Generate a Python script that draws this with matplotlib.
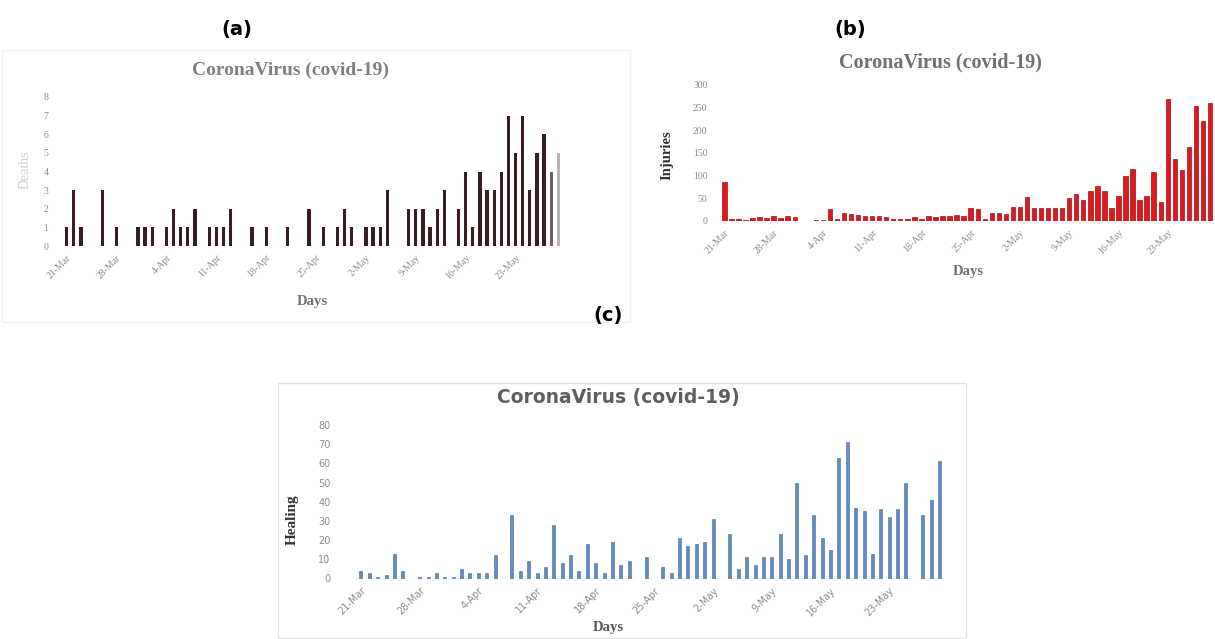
import numpy as np
import matplotlib
matplotlib.use("Agg")
from matplotlib import pyplot as plt
from matplotlib.patches import Rectangle

W, H = 1215, 639

tick_labels = ["21-Mar", "28-Mar", "4-Apr", "11-Apr", "18-Apr",
               "25-Apr", "2-May", "9-May", "16-May", "23-May"]

# daily values, 21-Mar .. 29-May
deaths = [1, 3, 1, 0, 0, 3, 0, 1, 0, 0,
          1, 1, 1, 0, 1, 2, 1, 1, 2, 0,
          1, 1, 1, 2, 0, 0, 1, 0, 1, 0,
          0, 1, 0, 0, 2, 0, 1, 0, 1, 2,
          1, 0, 1, 1, 1, 3, 0, 0, 2, 2,
          2, 1, 2, 3, 0, 2, 4, 1, 4, 3,
          3, 4, 7, 5, 7, 3, 5, 6, 4, 5]

injuries = [85, 5, 4, 3, 7, 8, 6, 10, 6, 10,
            8, 0, 0, 2, 3, 27, 4, 18, 15, 13,
            12, 12, 10, 8, 4, 4, 5, 8, 4, 10,
            8, 12, 10, 13, 12, 28, 26, 5, 17, 17,
            16, 31, 31, 52, 29, 29, 29, 29, 29, 50,
            60, 46, 66, 77, 66, 28, 55, 100, 115, 47,
            55, 108, 43, 270, 136, 112, 164, 253, 220, 261]

healing = [4, 3, 1, 2, 13, 4, 0, 1, 1, 3,
           1, 1, 5, 3, 3, 3, 12, 0, 33, 4,
           9, 3, 6, 28, 8, 12, 4, 18, 8, 3,
           19, 7, 9, 0, 11, 0, 6, 3, 21, 17,
           18, 19, 31, 0, 23, 5, 11, 7, 11, 11,
           23, 10, 50, 12, 33, 21, 15, 63, 71, 37,
           35, 13, 36, 32, 36, 50, 0, 33, 41, 61]

days = np.arange(len(deaths))
tick_pos = np.arange(0, len(days), 7)


def box(l, t, r, b):
    return [l / W, 1 - b / H, (r - l) / W, (b - t) / H]


def ftext(x, y, s, **kw):
    fig.text(x / W, 1 - y / H, s, ha="center", va="center", **kw)


def style(ax, ylim, yticks, font, size, color, ypad=5):
    ax.set_xlim(-1, len(days))
    ax.set_ylim(*ylim)
    ax.set_yticks(yticks)
    ax.set_xticks(tick_pos)
    ax.set_xticklabels(tick_labels, rotation=45, ha="right",
                       rotation_mode="anchor")
    for s in ax.spines.values():
        s.set_visible(False)
    ax.tick_params(length=0, labelsize=size, colors=color, pad=5)
    ax.tick_params(axis="y", pad=ypad)
    for lab in ax.get_xticklabels() + ax.get_yticklabels():
        lab.set_family(font)
    ax.patch.set_alpha(0)


fig = plt.figure(figsize=(W / 100, H / 100), dpi=100)

# light frames around the pasted charts
fig.patches.append(Rectangle((2 / W, 1 - 322 / H), 628 / W, 272 / H,
                             transform=fig.transFigure, fill=False,
                             ec="#f1f1f1", lw=1))
fig.patches.append(Rectangle((278 / W, 1 - 638 / H), 688 / W, 255 / H,
                             transform=fig.transFigure, fill=False,
                             ec="#e2e2e2", lw=1))

# (a) deaths
ax_a = fig.add_axes(box(59.6, 97, 565.4, 246))
cols_a = ["#3b1d21"] * (len(days) - 2) + ["#725e60", "#bcb2b3"]
ax_a.bar(days, deaths, width=0.45, color=cols_a)
style(ax_a, (0, 8), range(0, 9), "Liberation Serif", 7, "#8c8c8c", ypad=8)
ftext(291, 70, "CoronaVirus (covid-19)", family="Liberation Serif",
      weight="bold", size=14, color="#7f7f7f")
ftext(312, 301, "Days", family="Liberation Serif", weight="bold",
      size=10.5, color="#6f6f6f")
ftext(25, 170, "Deaths", family="Liberation Serif", size=10,
      color="#cfcfcf", rotation=90)

# (b) injuries
ax_b = fig.add_axes(box(718.7, 85, 1214.2, 221))
ax_b.bar(days, injuries, width=0.62, color="#e8141c", edgecolor="#8a1a1a",
         linewidth=0.5)
style(ax_b, (0, 300), range(0, 301, 50), "Liberation Serif", 7, "#8c8c8c",
      ypad=8)
ax_b.set_xlim(-0.8, 69.6)
ftext(940, 62, "CoronaVirus (covid-19)", family="Liberation Serif",
      weight="bold", size=14.5, color="#6f6f6f")
ftext(968, 272, "Days", family="Liberation Serif", weight="bold",
      size=10.5, color="#6f6f6f")
ftext(667, 155, "Injuries", family="Liberation Serif", weight="bold",
      size=10.5, color="#333333", rotation=90)

# (c) healing
ax_c = fig.add_axes(box(352.6, 425, 947.9, 578.5))
ax_c.bar(days, healing, width=0.36, color="#5e8cc8", edgecolor="#4a6590",
         linewidth=0.4)
style(ax_c, (0, 80), range(0, 81, 10), "DejaVu Sans", 7, "#8c8c8c",
      ypad=16)
ftext(618, 398, "CoronaVirus (covid-19)", family="DejaVu Sans",
      weight="bold", size=13.5, color="#5f5f5f")
ftext(608, 627, "Days", family="Liberation Serif", weight="bold",
      size=10.5, color="#555555")
ftext(292, 520, "Healing", family="Liberation Serif", weight="bold",
      size=11, color="#333333", rotation=90)

# panel letters
for x, y, s in [(237, 30, "(a)"), (850, 30, "(b)"), (608, 316, "(c)")]:
    ftext(x, y, s, family="DejaVu Sans", weight="bold", size=14,
          color="black")

fig.savefig("out.png", dpi=100, facecolor="white")
